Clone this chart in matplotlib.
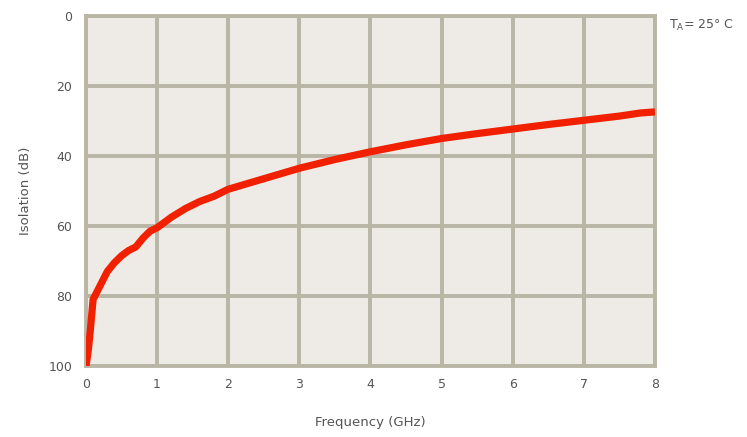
import matplotlib
matplotlib.use("Agg")
import matplotlib.pyplot as plt

# isolation curve
freq_ghz = [0.0, 0.03, 0.06, 0.1, 0.15, 0.2, 0.25, 0.3, 0.4, 0.5, 0.6, 0.7, 0.8, 0.9,
            1.0, 1.1, 1.2, 1.4, 1.6, 1.8, 2.0, 2.25, 2.5, 2.75, 3.0, 3.5, 4.0,
            4.5, 5.0, 5.5, 6.0, 6.5, 7.0, 7.5, 7.8, 8.0]
isolation_db = [100, 96, 90, 81, 79, 77, 75, 73, 70.5, 68.5, 67, 66, 63.5, 61.5,
                60.5, 59, 57.5, 55, 53, 51.5, 49.5, 48, 46.5, 45, 43.5, 41, 38.8,
                36.8, 35, 33.6, 32.3, 31, 29.8, 28.6, 27.7, 27.4]

x_ticks = [0, 1, 2, 3, 4, 5, 6, 7, 8]
y_ticks = [0, 20, 40, 60, 80, 100]

grid_col = "#b9b6a6"
text_col = "#555555"

fig = plt.figure(figsize=(7.47, 4.37), dpi=100)
ax = fig.add_axes([0.1151, 0.1625, 0.7617, 0.8009])
ax.set_facecolor("#eeebe6")

ax.plot(freq_ghz, isolation_db, color="#f02000", linewidth=5.2,
        solid_capstyle="butt", zorder=3)

ax.set_xlim(0, 8)
ax.set_ylim(100, 0)
ax.set_xticks(x_ticks)
ax.set_yticks(y_ticks)
ax.grid(True, color=grid_col, linewidth=2.8)
ax.set_axisbelow(True)
for s in ax.spines.values():
    s.set_color(grid_col)
    s.set_linewidth(2.8)
ax.tick_params(length=0, labelsize=9, labelcolor=text_col)
ax.tick_params(axis="y", pad=10)
ax.tick_params(axis="x", pad=9)

ax.set_xlabel("Frequency (GHz)", fontsize=9.5, color=text_col, labelpad=18)
ax.set_ylabel("Isolation (dB)", fontsize=9.5, color=text_col, labelpad=12)

fig.text(0.895, 0.935, r"T$_\mathregular{A}$= 25° C", fontsize=9, color=text_col)

fig.savefig("out.png", dpi=100)
